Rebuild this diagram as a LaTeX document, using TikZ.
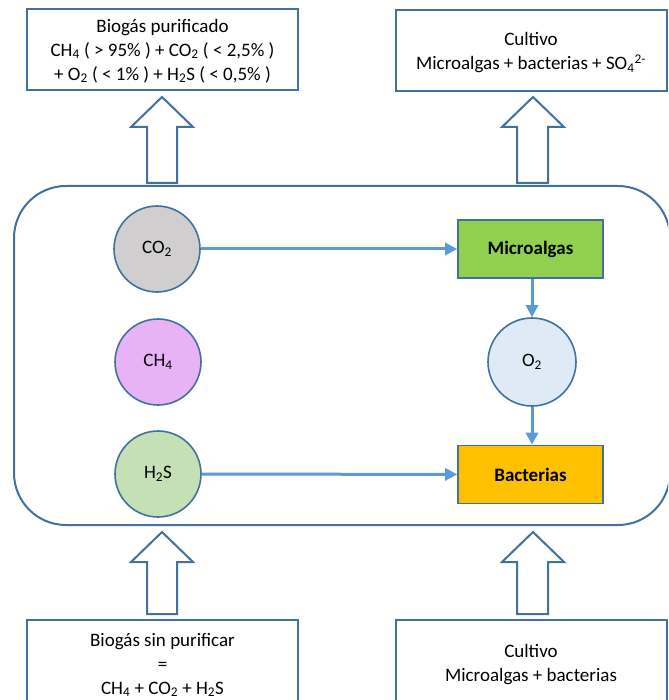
\documentclass[tikz,border=0pt]{standalone}
\usepackage{fontspec}
\setmainfont{Carlito}
\usetikzlibrary{arrows.meta}
\definecolor{outl}{HTML}{41719C}
\definecolor{link}{HTML}{5B9BD5}
\definecolor{gasgray}{HTML}{D0CECE}
\definecolor{gasviolet}{HTML}{E7B3F6}
\definecolor{gasgreen}{HTML}{C5E0B4}
\definecolor{gasblue}{HTML}{DEEBF7}
\definecolor{algae}{HTML}{92D050}
\definecolor{bact}{HTML}{FFC000}
\tikzset{
  textbox/.style={draw=outl, line width=2, fill=white, minimum width=271, align=center,
    font=\fontsize{19}{24}\selectfont, inner sep=0},
  gas/.style={circle, draw=outl, line width=1.6, minimum size=86, inner sep=0,
    font=\fontsize{19}{22}\selectfont},
  organism/.style={draw=outl, line width=1.6, minimum width=145, minimum height=58, inner sep=0,
    font=\bfseries\fontsize{19}{22}\selectfont},
  flow/.style={draw=link, line width=3, -{Triangle[length=12,width=12]}},
  blockarrow/.style={draw=outl, line width=2, fill=white, line join=miter},
  reactor/.style={draw=outl, line width=2, rounded corners=52}
}
\begin{document}
\begin{tikzpicture}[x=1pt, y=-1pt]
\useasboundingbox (0,0) rectangle (668,700);
\clip (0,0) rectangle (668,700);

% input and output streams
\node[textbox, minimum height=81, text depth=0pt] (pure) at (162.5,49.5)
  {Biogás purificado\\CH\textsubscript{4} ( > 95\% ) + CO\textsubscript{2} ( < 2,5\% )\\+ O\textsubscript{2} ( < 1\% ) + H\textsubscript{2}S ( < 0,5\% )};
\node[textbox, minimum height=81, text depth=0pt] (cultout) at (531,51)
  {Cultivo\\Microalgas + bacterias + SO\textsubscript{4}\textsuperscript{2-}};
\node[textbox, minimum height=90, anchor=north] (raw) at (162.5,619)
  {Biogás sin purificar\\=\\CH\textsubscript{4} + CO\textsubscript{2} + H\textsubscript{2}S};
\node[textbox, minimum height=90, anchor=north] (cultin) at (531,619)
  {Cultivo\\Microalgas + bacterias};

% block arrows into and out of the reactor
\draw[blockarrow] (147,183) -- (147,127) -- (131,127) -- (162,97) -- (193,127) -- (177,127) -- (177,183) -- cycle;
\draw[blockarrow] (517,183) -- (517,127) -- (502,127) -- (533,97) -- (564,127) -- (548,127) -- (548,183) -- cycle;
\draw[blockarrow] (147,614) -- (147,562) -- (131,562) -- (162,532) -- (193,562) -- (177,562) -- (177,614) -- cycle;
\draw[blockarrow] (517,614) -- (517,562) -- (502,562) -- (533,532) -- (564,562) -- (548,562) -- (548,614) -- cycle;

% reactor
\draw[reactor] (14,186) rectangle (670,525);

% gases
\node[gas, fill=gasgray] (co2) at (157,249) {CO\textsubscript{2}};
\node[gas, fill=gasviolet] (ch4) at (158,362) {CH\textsubscript{4}};
\node[gas, fill=gasgreen] (h2s) at (158,474) {H\textsubscript{2}S};
\node[gas, fill=gasblue, minimum size=88] (o2) at (532,362) {O\textsubscript{2}};

% organisms
\node[organism, fill=algae] (algas) at (530.5,249) {Microalgas};
\node[organism, fill=bact] (bacterias) at (530.5,474.5) {Bacterias};

% exchanges
\draw[flow] (co2) -- (algas);
\draw[flow] (h2s) -- (bacterias);
\draw[flow] (algas.south -| o2) -- (o2);
\draw[flow] (o2) -- (bacterias.north -| o2);
\end{tikzpicture}
\end{document}
